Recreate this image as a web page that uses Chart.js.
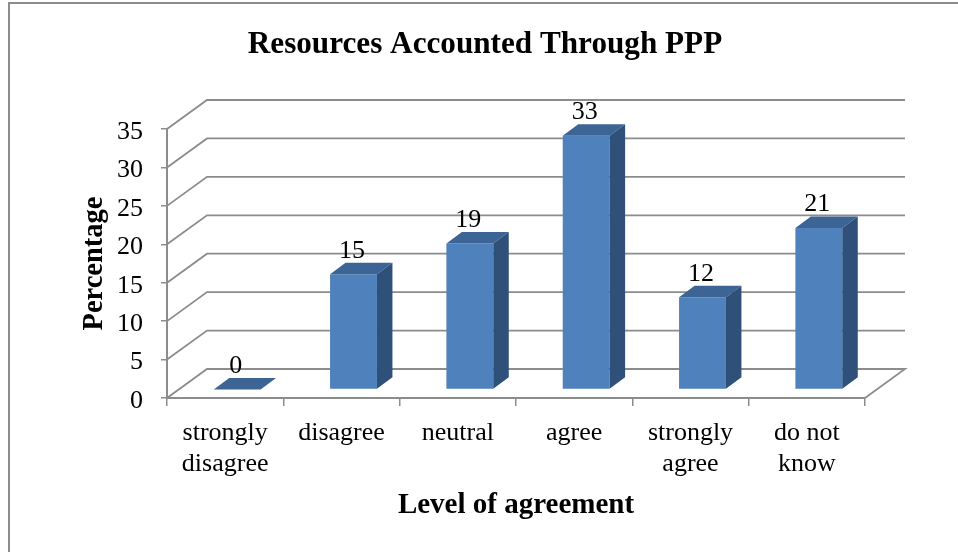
<!DOCTYPE html>
<html>
<head>
<meta charset="utf-8">
<style>html,body{margin:0;padding:0;background:#fff}canvas{display:block}</style>
<script src="https://cdn.jsdelivr.net/npm/chart.js@4"></script>
</head>
<body>
<div style="width:958px;height:552px"><canvas id="c" width="958" height="552"></canvas></div>
<script>
const categories = [['strongly','disagree'],'disagree','neutral','agree',['strongly','agree'],['do not','know']];
const percentages = [0, 15, 19, 33, 12, 21];
const yTicks = [0, 5, 10, 15, 20, 25, 30, 35];
const chartTitle = 'Resources Accounted Through PPP';
const xTitle = 'Level of agreement';
const yTitle = 'Percentage';

const GREY = '#8c8c8c', FRONT = '#4f81bd', TOP = '#3c6494', SIDE = '#2f5179';
const FAMILY = '"Liberation Serif"';
const WALL = {dx: 40, dy: 29};
const BAR_SHIFT = {dx: 12, dy: 8.5};
const BAR_DEPTH = {dx: 15.5, dy: 11.5};

const scene = {
  id: 'scene',
  afterLayout(chart) {
    chart.scales.y.getLabelItems().forEach(item => { item.options.translation[1] += 3; });
  },
  beforeDraw(chart) {
    const c = chart.ctx;
    c.save();
    c.strokeStyle = '#8c8c8c'; c.lineWidth = 2;
    c.beginPath(); c.moveTo(9, 552); c.lineTo(9, 3); c.lineTo(958, 3); c.stroke();
    c.restore();
  },
  beforeDatasetsDraw(chart) {
    const c = chart.ctx, {x, y} = chart.scales, L = x.left, R = x.right;
    c.save();
    c.strokeStyle = GREY; c.lineWidth = 1.8;
    yTicks.forEach(v => {
      const py = y.getPixelForValue(v);
      c.beginPath();
      c.moveTo(L, py);
      c.lineTo(L + WALL.dx, py - WALL.dy);
      c.lineTo(R + WALL.dx, py - WALL.dy);
      if (v === 0) c.lineTo(R, py);
      c.stroke();
    });
    c.restore();
  },
  beforeDatasetDraw(chart) {
    chart.ctx.save();
    chart.ctx.translate(BAR_SHIFT.dx, -BAR_SHIFT.dy);
  },
  afterDatasetDraw(chart, args) {
    const c = chart.ctx;
    const {dx, dy} = BAR_DEPTH;
    args.meta.data.forEach(bar => {
      const l = bar.x - bar.width / 2, r = bar.x + bar.width / 2, t = bar.y, b = bar.base;
      c.fillStyle = TOP;
      c.beginPath(); c.moveTo(l, t); c.lineTo(l + dx, t - dy); c.lineTo(r + dx, t - dy); c.lineTo(r, t); c.closePath(); c.fill();
      if (b - t > 0) {
        c.fillStyle = SIDE;
        c.beginPath(); c.moveTo(r, t); c.lineTo(r + dx, t - dy); c.lineTo(r + dx, b - dy); c.lineTo(r, b); c.closePath(); c.fill();
      }
    });
    c.restore();
  },
  afterDatasetsDraw(chart) {
    const c = chart.ctx, meta = chart.getDatasetMeta(0);
    c.save();
    c.font = '26px ' + FAMILY; c.fillStyle = '#000';
    c.textAlign = 'center'; c.textBaseline = 'middle';
    meta.data.forEach((bar, i) => {
      c.fillText(String(percentages[i]), bar.x + BAR_SHIFT.dx - 1.5, bar.y - BAR_SHIFT.dy - 23.5);
    });
    c.restore();
  }
};

new Chart(document.getElementById('c'), {
  type: 'bar',
  data: {labels: categories, datasets: [{
    data: percentages, backgroundColor: FRONT, borderWidth: 0,
    categoryPercentage: 1, barPercentage: 0.403, clip: false
  }]},
  plugins: [scene],
  options: {
    responsive: false, animation: false,
    layout: {padding: {left: 12, right: 0, top: 0, bottom: 0}},
    plugins: {
      legend: {display: false}, tooltip: {enabled: false},
      title: {display: true, text: chartTitle, color: '#000',
        font: {family: FAMILY, size: 31.2, weight: 'bold', lineHeight: 1.2},
        padding: {top: 26, bottom: 65.56}}
    },
    scales: {
      x: {
        grid: {drawOnChartArea: false, drawTicks: true, tickLength: 8, color: GREY, lineWidth: 1.5, offset: true},
        border: {color: GREY, width: 2},
        ticks: {font: {family: FAMILY, size: 26, lineHeight: 1.18}, color: '#000', maxRotation: 0, autoSkip: false, padding: 12},
        title: {display: true, text: xTitle, color: '#000', font: {family: FAMILY, size: 29, weight: 'bold', lineHeight: 1.2}, padding: {top: 0, bottom: 29}},
        afterFit(s) { s.height = 154; }
      },
      y: {
        min: 0, max: 35,
        grid: {drawOnChartArea: false, drawTicks: true, tickLength: 6, color: GREY, lineWidth: 1.5},
        border: {color: GREY, width: 2},
        ticks: {stepSize: 5, font: {family: FAMILY, size: 26}, color: '#000', padding: 18, callback: v => yTicks.includes(v) ? String(v) : ''},
        title: {display: true, text: yTitle, color: '#000', font: {family: FAMILY, size: 28.5, weight: 'bold', lineHeight: 1.2}, padding: {top: 65.5, bottom: 0}},
        afterFit(s) { s.width = 155; }
      },
      gutter: {
        position: 'right', display: true,
        grid: {display: false}, border: {display: false}, ticks: {display: false},
        afterFit(s) { s.width = 93; }
      }
    }
  }
});
</script>
</body>
</html>
